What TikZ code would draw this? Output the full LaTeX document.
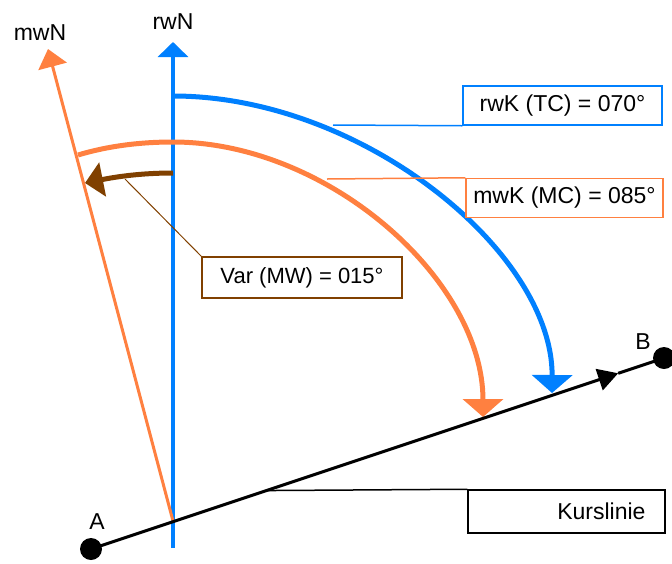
\documentclass[tikz,border=0pt]{standalone}
\usepackage{fontspec}
\setmainfont{Liberation Sans}
\usetikzlibrary{arrows.meta,calc}
\definecolor{tblue}{RGB}{0,128,255}
\definecolor{torange}{RGB}{255,128,64}
\definecolor{tbrown}{RGB}{128,64,0}
\begin{document}
\begin{tikzpicture}[x=1pt,y=-1pt,
  font=\fontsize{23}{27}\selectfont,
  txt/.style={inner sep=0pt},
  lbox/.style={draw, line width=1.5pt, fill=white, inner sep=0pt},
  dot/.style={circle, fill=black, inner sep=0pt, minimum size=22pt},
  bigarc/.style={line width=5pt, line cap=butt},
  thinline/.style={line width=1.5pt}]
\useasboundingbox (0,0) rectangle (672,563);

% key points
\coordinate (O) at (173,521);
\coordinate (bot) at (173,548);
\coordinate (rwNtip) at (173,42);
\coordinate (mwNtip) at (48,49);

% north lines
\draw[tblue, line width=3.3pt, -{Triangle[length=15pt,width=30pt]}] (bot) -- (rwNtip);
\draw[torange, line width=3pt, -{Triangle[length=18pt,width=29pt]}] (O) -- (mwNtip);
\node[txt] (rwN) at (173,22) {rwN};
\node[txt] (mwN) at (40,33) {mwN};

% arcs
\coordinate (bs) at (173,96);
\coordinate (be) at (552,393);
\draw[tblue, bigarc, -{Triangle[length=18pt,width=40pt]}] (bs) .. controls (363,96) and (553,253) .. (be);
\coordinate (os) at (78,155);
\coordinate (otop) at (173,142);
\coordinate (oe) at (483,417);
\draw[torange, bigarc, -{Triangle[length=18pt,width=40pt]}] (os) .. controls (108,146) and (140,142) .. (otop)
   .. controls (328,142) and (483,280) .. (oe);

% variation arrow
\coordinate (vs) at (173,173);
\coordinate (ve) at (85,183);
\draw[tbrown, line width=5pt, -{Triangle[length=18pt,width=34pt]}] (vs) .. controls (140,173) and (115,177) .. (ve);

% boxes
\node[lbox, draw=tblue, minimum width=199pt, minimum height=39pt] (tc) at (562.5,105.5) {rwK (TC) = 070°};
\node[lbox, draw=torange, minimum width=197pt, minimum height=39pt] (mc) at (564.5,198) {mwK (MC) = 085°};
\node[lbox, draw=tbrown, minimum width=200pt, minimum height=41pt, font=\fontsize{22}{26}\selectfont] (var) at (302,277.5) {Var (MW) = 015°};
\node[lbox, draw=black, minimum width=197pt, minimum height=43pt] (kl) at (566.5,511.5) {};
\node[txt, anchor=east] (kltext) at ([xshift=-20pt]kl.east) {Kurslinie};

% callouts
\coordinate (tcc) at (333,125);
\coordinate (mcc) at (327,179);
\coordinate (vcc) at (125,179);
\draw[tblue, thinline] (tcc) -- (tc.south west);
\draw[torange, thinline] (mcc) -- (mc.north west);
\draw[tbrown, line width=1pt] (vcc) -- (var.north west);

% course line
\node[dot] (A) at (91,549) {};
\node[dot] (B) at (664,358) {};
\coordinate (T) at ($(A.center)!0.92!(B.center)$);
\coordinate (kc) at ($(A.center)!0.306!(B.center)$);
\draw[thinline] (kc) -- (kl.north west);
\draw[line width=3pt, -{Triangle[length=20pt,width=22pt]}] (A.center) -- (T);
\draw[line width=3pt] (T) -- (B.center);
\node[txt] (lA) at (97,522) {A};
\node[txt] (lB) at (643,342) {B};
\end{tikzpicture}
\end{document}
